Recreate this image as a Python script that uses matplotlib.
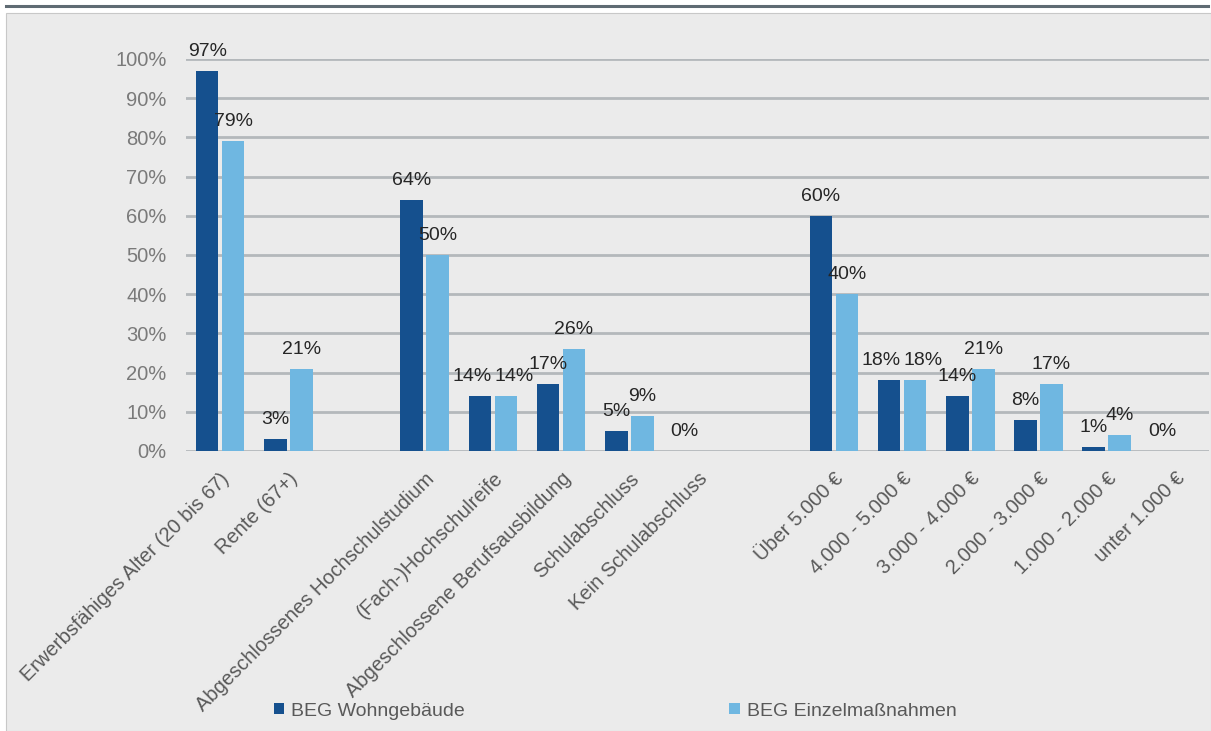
import numpy as np
import matplotlib.pyplot as plt
from matplotlib.patches import Rectangle
from matplotlib.lines import Line2D

plt.rcParams['font.family'] = ['Liberation Sans', 'DejaVu Sans']

# categories (empty strings are the gaps between the groups)
categories = ['Erwerbsfähiges Alter (20 bis 67)', 'Rente (67+)', '',
              'Abgeschlossenes Hochschulstudium', '(Fach-)Hochschulreife',
              'Abgeschlossene Berufsausbildung', 'Schulabschluss', 'Kein Schulabschluss', '',
              'Über 5.000 €', '4.000 - 5.000 €', '3.000 - 4.000 €', '2.000 - 3.000 €',
              '1.000 - 2.000 €', 'unter 1.000 €']
wohngebaeude = [97, 3, np.nan, 64, 14, 17, 5, 0, np.nan, 60, 18, 14, 8, 1, 0]
einzelmassnahmen = [79, 21, np.nan, 50, 14, 26, 9, np.nan, np.nan, 40, 18, 21, 17, 4, np.nan]
series_names = ['BEG Wohngebäude', 'BEG Einzelmaßnahmen']

dark = '#15508e'
light = '#6fb7e1'

fig = plt.figure(figsize=(12.11, 7.31), dpi=100)
fig.patch.set_facecolor('white')

# grey panel and dark top rule
fig.patches.append(Rectangle((6 / 1211, 0), 1 - 6 / 1211, 1 - 13 / 731,
                             transform=fig.transFigure, facecolor='#ebebeb',
                             edgecolor='#c8c8c8', linewidth=0.8, zorder=-10))
fig.lines.append(Line2D([6 / 1211, 1208 / 1211], [1 - 6 / 731] * 2, transform=fig.transFigure,
                        color='#5f6b73', linewidth=2.2))

ax = fig.add_axes([186 / 1211, 1 - 451 / 731, 1023 / 1211, 392 / 731])
ax.set_facecolor('none')

x = np.arange(len(categories))
w = 0.33
off = 0.19
b1 = ax.bar(x - off, wohngebaeude, w, color=dark, label=series_names[0], zorder=3)
b2 = ax.bar(x + off, einzelmassnahmen, w, color=light, label=series_names[1], zorder=3)

# data labels; equal neighbours get pushed apart a little, like Excel does
for i in range(len(categories)):
    v1, v2 = wohngebaeude[i], einzelmassnahmen[i]
    nudge = 0.12 if (not np.isnan(v1) and not np.isnan(v2) and abs(v1 - v2) < 3) else 0
    for xi, v in [(x[i] - off - nudge, v1), (x[i] + off + nudge, v2)]:
        if np.isnan(v):
            continue
        ax.text(xi, v + 2.8, f'{v:.0f}%', ha='center', va='bottom', fontsize=14,
                color='#262626', clip_on=False, zorder=4)

ax.set_xlim(-0.5, len(categories) - 0.5)
ax.set_ylim(0, 100)
ax.set_yticks(np.arange(0, 101, 10))
ax.set_yticklabels([f'{t}%' for t in range(0, 101, 10)], fontsize=14.5, color='#7a7a7a')
ax.set_xticks(x)
ax.set_xticklabels(categories, rotation=45, ha='right', rotation_mode='anchor',
                   fontsize=14.5, color='#595959')
ax.tick_params(axis='both', length=0)
ax.tick_params(axis='x', pad=13)
ax.tick_params(axis='y', pad=14)
ax.grid(axis='y', color='#b4b8bb', linewidth=2, zorder=0)
for s in ax.spines.values():
    s.set_visible(False)

fig.legend(handles=[b1, b2], loc='lower left', bbox_to_anchor=(256 / 1211, -6 / 731),
           ncol=2, frameon=False, fontsize=14, handlelength=0.55, handleheight=0.55,
           handletextpad=0.35, columnspacing=13.6, labelcolor='#595959')

fig.savefig('out.png', dpi=100, facecolor='white')
